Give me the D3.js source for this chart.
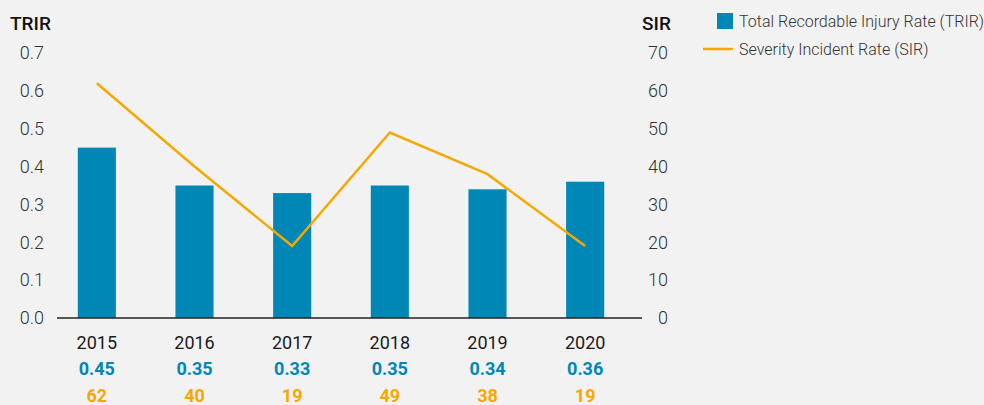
<!DOCTYPE html>
<html>
<head>
<meta charset="utf-8">
<script src="https://cdn.jsdelivr.net/npm/d3@7"></script>
<style>
  html, body { margin: 0; padding: 0; background: #f2f2f2; }
  svg { display: block; font-family: Roboto, "Noto Sans", sans-serif; }
  .light { font-family: "Roboto Light", Roboto, sans-serif; font-weight: 300; }
  .tick-label { font-size: 18px; fill: #333; }
</style>
</head>
<body>
<svg id="chart"></svg>
<script>
// size
const width = 984;
const height = 405;

// data
const years = ["2015", "2016", "2017", "2018", "2019", "2020"];
const trir = [0.45, 0.35, 0.33, 0.35, 0.34, 0.36];
const sir = [62, 40, 19, 49, 38, 19];
const trirTicks = [0, 0.1, 0.2, 0.3, 0.4, 0.5, 0.6, 0.7];
const sirTicks = [0, 10, 20, 30, 40, 50, 60, 70];

const blue = "#0087b6";
const orange = "#f6a800";

// plot boundaries
const plot = { left: 57, right: 642, top: 53, bottom: 318 };

const svg = d3.select("#chart")
    .attr("width", width)
    .attr("height", height);

svg.append("rect")
    .attr("width", width)
    .attr("height", height)
    .attr("fill", "#f2f2f2");

// scales
const x = d3.scaleBand()
    .domain(years)
    .range([48, 634])
    .paddingInner(0.61)
    .paddingOuter(0.305);
const yL = d3.scaleLinear().domain([0, 0.7]).range([plot.bottom, plot.top]);
const yR = d3.scaleLinear().domain([0, 70]).range([plot.bottom, plot.top]);

// left axis
const leftAxis = svg.append("g")
    .attr("transform", `translate(${plot.left},0)`)
    .call(d3.axisLeft(yL).tickValues(trirTicks).tickFormat(d3.format(".1f")).tickSize(0).tickPadding(13));
leftAxis.select(".domain").remove();
leftAxis.selectAll("text").attr("class", "tick-label light").attr("fill", null);

// right axis
const rightAxis = svg.append("g")
    .attr("transform", `translate(668,0)`)
    .call(d3.axisLeft(yR).tickValues(sirTicks).tickSize(0).tickPadding(0));
rightAxis.select(".domain").remove();
rightAxis.selectAll("text").attr("class", "tick-label light").attr("fill", null);

// axis titles
svg.append("text")
    .attr("x", 10).attr("y", 30)
    .attr("font-size", 19).attr("font-weight", 500).attr("fill", "#111")
    .text("TRIR");
svg.append("text")
    .attr("x", 642).attr("y", 30)
    .attr("font-size", 19).attr("font-weight", 500).attr("fill", "#111")
    .text("SIR");

// bars
svg.append("g")
    .selectAll("rect")
    .data(years)
    .join("rect")
    .attr("x", d => x(d))
    .attr("width", x.bandwidth())
    .attr("y", (d, i) => yL(trir[i]))
    .attr("height", (d, i) => plot.bottom - yL(trir[i]))
    .attr("fill", blue);

// baseline
svg.append("line")
    .attr("x1", plot.left).attr("x2", plot.right)
    .attr("y1", plot.bottom).attr("y2", plot.bottom)
    .attr("stroke", "#222").attr("stroke-width", 1.5);

// SIR line
const line = d3.line()
    .x((d, i) => x(years[i]) + x.bandwidth() / 2)
    .y(d => yR(d));
svg.append("path")
    .datum(sir)
    .attr("d", line)
    .attr("fill", "none")
    .attr("stroke", orange)
    .attr("stroke-width", 2.5);

// category labels
const labels = svg.append("g").attr("text-anchor", "middle").attr("font-size", 18);
labels.selectAll(".year")
    .data(years)
    .join("text")
    .attr("class", "year")
    .attr("x", d => x(d) + x.bandwidth() / 2)
    .attr("y", 349)
    .attr("fill", "#1a1a1a")
    .text(d => d);
labels.selectAll(".trir")
    .data(years)
    .join("text")
    .attr("class", "trir")
    .attr("x", d => x(d) + x.bandwidth() / 2)
    .attr("y", 375)
    .attr("font-weight", 700)
    .attr("fill", blue)
    .text((d, i) => d3.format(".2f")(trir[i]));
labels.selectAll(".sir")
    .data(years)
    .join("text")
    .attr("class", "sir")
    .attr("x", d => x(d) + x.bandwidth() / 2)
    .attr("y", 402)
    .attr("font-weight", 700)
    .attr("fill", orange)
    .text((d, i) => sir[i]);

// legend
const legend = svg.append("g").attr("font-size", 16).attr("fill", "#333");
legend.append("rect")
    .attr("x", 717).attr("y", 13)
    .attr("width", 16).attr("height", 16)
    .attr("fill", blue);
legend.append("text")
    .attr("class", "light")
    .attr("x", 739).attr("y", 27)
    .text("Total Recordable Injury Rate (TRIR)");
legend.append("line")
    .attr("x1", 703).attr("x2", 733)
    .attr("y1", 49).attr("y2", 49)
    .attr("stroke", orange).attr("stroke-width", 2.5);
legend.append("text")
    .attr("class", "light")
    .attr("x", 739).attr("y", 55)
    .text("Severity Incident Rate (SIR)");
</script>
</body>
</html>
